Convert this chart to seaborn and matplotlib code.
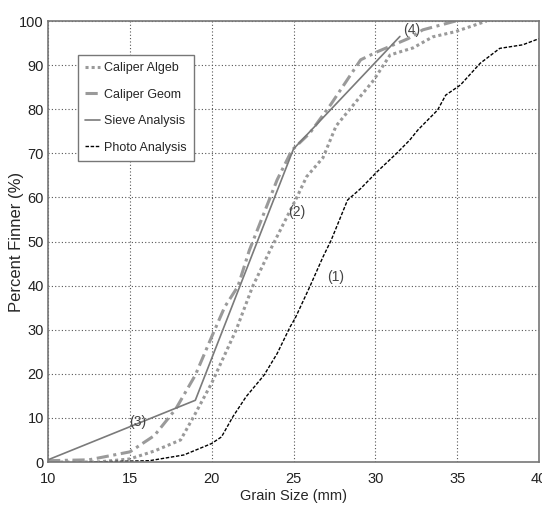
"""
Grain size distribution: caliper (algebraic / geometric), sieve and photo analysis.
"""
import matplotlib
matplotlib.use("Agg")
import matplotlib.pyplot as plt
import seaborn as sns

# ---- data -------------------------------------------------------------
algeb_x = [10, 13, 15, 16.5, 18.1, 18.9, 20.0, 21.5, 22.5, 23.5, 25.2, 25.8,
           26.8, 27.6, 29.9, 30.9, 31.5, 32.3, 33.5, 34.9, 36.8]
algeb_y = [0, 0, 0.7, 2.5, 5.0, 10.3, 17.9, 30.0, 39.8, 47.5, 60.0, 64.7,
           69.0, 76.2, 86.6, 92.3, 93.0, 93.9, 96.4, 97.6, 100]

geom_x = [10, 12.5, 15, 16.5, 17.8, 19.0, 20.0, 20.8, 21.6, 22.3, 24.0, 24.9,
          26.0, 27.3, 29.1, 30.1, 32.0, 32.9, 34.9]
geom_y = [0.3, 0.5, 2.3, 6.0, 12.0, 19.7, 28.4, 35.2, 39.8, 48.0, 64.0, 70.7,
          74.6, 81.2, 91.2, 93.0, 96.0, 98.0, 100]

sieve_x = [10, 19, 25, 31.5]
sieve_y = [0.5, 14, 71, 96.5]

photo_x = [12.5, 16.2, 18.3, 20.0, 20.6, 21.3, 22.1, 23.2, 24.0, 24.8, 25.1,
           26.0, 26.8, 27.3, 28.3, 29.1, 30.1, 31.3, 32.1, 32.6, 33.8, 34.3,
           35.2, 36.4, 37.6, 39.0, 40.0]
photo_y = [0, 0.3, 1.6, 4.2, 5.7, 10.3, 14.8, 19.7, 24.6, 30.7, 32.6,
           39.8, 46.5, 50.3, 59.4, 62.0, 65.8, 70.0, 73.0, 75.3, 79.8, 83.2,
           85.5, 90.4, 93.8, 94.6, 96.0]

curve_labels = ["(1)", "(2)", "(3)", "(4)"]
label_x = [27.6, 25.2, 15.5, 32.2]
label_y = [42, 56.7, 9, 98]

x_ticks = [10, 15, 20, 25, 30, 35, 40]
y_ticks = [0, 10, 20, 30, 40, 50, 60, 70, 80, 90, 100]

# ---- style ------------------------------------------------------------
sns.set_theme(style="ticks")
plt.rcParams["font.family"] = ["Liberation Sans", "DejaVu Sans"]

fig = plt.figure(figsize=(5.42, 5.09), dpi=100)
ax = fig.add_axes([0.0886, 0.0923, 0.9059, 0.8664])

sns.lineplot(x=algeb_x, y=algeb_y, ax=ax, color="#9a9a9a", lw=2.2,
             ls=(0, (1, 1)), label="Caliper Algeb", sort=False)
sns.lineplot(x=geom_x, y=geom_y, ax=ax, color="#9a9a9a", lw=2.2,
             ls=(0, (4, 1.5, 1, 1.5)), label="Caliper Geom", sort=False)
sns.lineplot(x=sieve_x, y=sieve_y, ax=ax, color="#7a7a7a", lw=1.2,
             ls="-", label="Sieve Analysis", sort=False)
sns.lineplot(x=photo_x, y=photo_y, ax=ax, color="black", lw=1.0,
             ls=(0, (2.5, 1.2)), label="Photo Analysis", sort=False)

for t, lx, ly in zip(curve_labels, label_x, label_y):
    ax.text(lx, ly, t, fontsize=10, color="#444444", ha="center", va="center")

ax.set_xlim(10, 40)
ax.set_ylim(0, 100)
ax.set_xticks(x_ticks)
ax.set_yticks(y_ticks)
ax.tick_params(labelsize=10.5, length=0, pad=3, colors="#222222")
ax.tick_params(axis="x", pad=7)
ax.grid(True, color="#555555", ls=(0, (1, 2)), lw=0.8)
for s in ax.spines.values():
    s.set_color("#777777")
    s.set_linewidth(1.2)

ax.set_xlabel("Grain Size (mm)", fontsize=10.5, labelpad=2)
ax.set_ylabel("Percent Finner (%)", fontsize=12)
ax.yaxis.set_label_coords(-0.048, 0.5)

leg = ax.legend(loc="upper left", bbox_to_anchor=(0.061, 0.923), fontsize=9,
                handlelength=1.2, handletextpad=0.3, borderpad=0.6,
                labelspacing=1.15, fancybox=False, framealpha=1,
                borderaxespad=0)
leg.get_frame().set_edgecolor("#777777")
leg.get_frame().set_linewidth(1.0)

fig.savefig("out.png", dpi=100)
